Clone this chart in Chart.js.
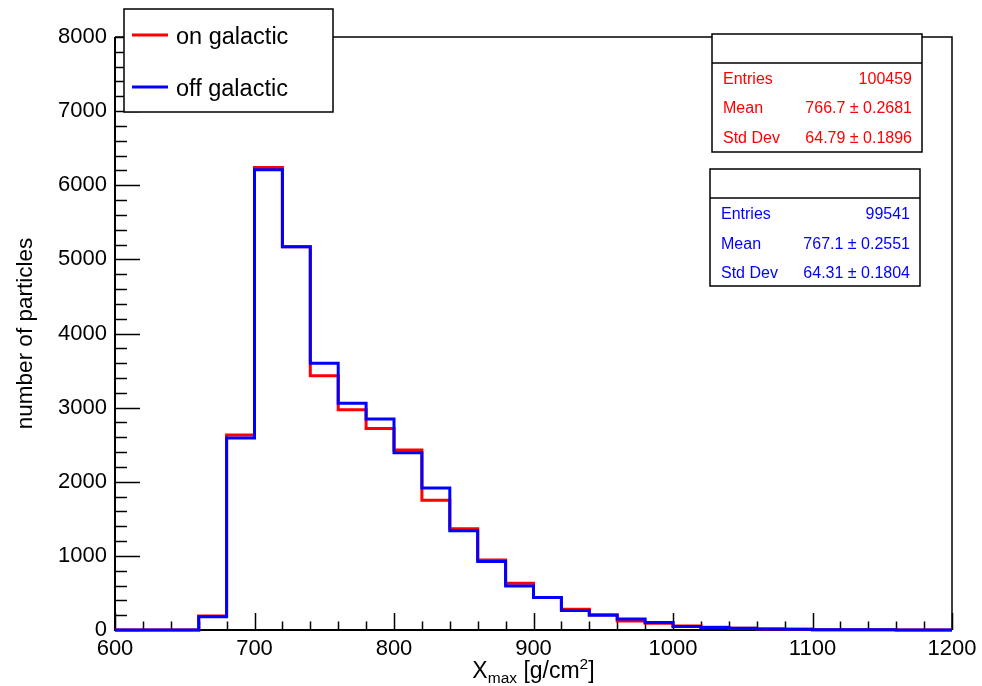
<!DOCTYPE html>
<html>
<head>
<meta charset="utf-8">
<script src="https://cdn.jsdelivr.net/npm/chart.js@4.4.1/dist/chart.umd.min.js"></script>
<style>
  html, body { margin: 0; padding: 0; background: #fff; }
  canvas { display: block; }
</style>
</head>
<body>
<canvas id="xmaxChart" width="982" height="686"></canvas>
<script>
// low edge of each 20 g/cm2 bin
const binLow = [600, 620, 640, 660, 680, 700, 720, 740, 760, 780,
                800, 820, 840, 860, 880, 900, 920, 940, 960, 980,
                1000, 1020, 1040, 1060, 1080, 1100, 1120, 1140, 1160, 1180];
const binHigh = 1200;

const onGalactic  = [0, 0, 0, 190, 2630, 6240, 5170, 3430, 2970, 2720,
                     2430, 1750, 1365, 945, 630, 440, 280, 205, 122, 92,
                     55, 36, 22, 14, 10, 5, 3, 2, 1, 1];
const offGalactic = [0, 0, 0, 180, 2590, 6210, 5170, 3600, 3060, 2845,
                     2390, 1915, 1340, 925, 595, 440, 262, 200, 148, 100,
                     48, 34, 22, 14, 10, 5, 3, 2, 1, 1];

const seriesNames  = ['on galactic', 'off galactic'];
const seriesColors = ['#ff0000', '#0000ff'];

const statEntries = ['100459', '99541'];
const statMean    = ['766.7 \u00b1 0.2681', '767.1 \u00b1 0.2551'];
const statStdDev  = ['64.79 \u00b1 0.1896', '64.31 \u00b1 0.1804'];

const xTicks = [600, 700, 800, 900, 1000, 1100, 1200];
const yTicks = [0, 1000, 2000, 3000, 4000, 5000, 6000, 7000, 8000];

const FONT = '"Liberation Sans", Arial, Helvetica, sans-serif';
Chart.defaults.font.family = FONT;
Chart.defaults.color = '#000';

// step outline: one point per low edge plus the closing edge
function histPoints(values) {
    const pts = binLow.map((e, i) => ({ x: e, y: values[i] }));
    pts.push({ x: binHigh, y: values[values.length - 1] });
    return pts;
}

// frame, inward ticks and axis lines (ROOT style)
const rootFrame = {
    id: 'rootFrame',
    beforeDatasetsDraw(chart) {
        const { ctx, chartArea: a, scales: { x, y } } = chart;
        ctx.save();
        ctx.strokeStyle = '#000';

        ctx.lineWidth = 1.5;
        ctx.beginPath();
        ctx.moveTo(a.left, a.top);
        ctx.lineTo(a.right, a.top);
        ctx.lineTo(a.right, a.bottom);
        ctx.stroke();

        ctx.lineWidth = 1.5;
        ctx.beginPath();
        for (let v = y.min; v <= y.max; v += 200) {
            const py = Math.round(y.getPixelForValue(v)) + 0.5;
            const len = v % 1000 === 0 ? 25 : 12;
            ctx.moveTo(a.left, py);
            ctx.lineTo(a.left + len, py);
        }
        for (let v = x.min; v <= x.max; v += 20) {
            const px = Math.round(x.getPixelForValue(v)) + 0.5;
            const len = v % 100 === 0 ? 17 : 8.5;
            ctx.moveTo(px, a.bottom);
            ctx.lineTo(px, a.bottom - len);
        }
        ctx.stroke();

        ctx.lineWidth = 2;
        ctx.beginPath();
        ctx.moveTo(a.left, a.top);
        ctx.lineTo(a.left, a.bottom);
        ctx.lineTo(a.right, a.bottom);
        ctx.stroke();
        ctx.restore();
    },
    afterDraw(chart) {
        const { ctx, chartArea: a } = chart;
        ctx.save();

        // x axis title with subscript / superscript
        const parts = [
            { t: 'X', s: 23, dy: 0 },
            { t: 'max', s: 15.5, dy: 5 },
            { t: ' [g/cm', s: 23, dy: 0 },
            { t: '2', s: 15.5, dy: -9 },
            { t: ']', s: 23, dy: 0 }
        ];
        let total = 0;
        parts.forEach(p => {
            ctx.font = p.s + 'px ' + FONT;
            p.w = ctx.measureText(p.t).width;
            total += p.w;
        });
        let tx = (a.left + a.right) / 2 - total / 2;
        ctx.fillStyle = '#000';
        ctx.textBaseline = 'alphabetic';
        ctx.textAlign = 'left';
        parts.forEach(p => {
            ctx.font = p.s + 'px ' + FONT;
            ctx.fillText(p.t, tx, 678 + p.dy);
            tx += p.w;
        });

        // legend box
        ctx.fillStyle = '#fff';
        ctx.fillRect(124, 9, 209, 103);
        ctx.strokeStyle = '#000';
        ctx.lineWidth = 1.5;
        ctx.strokeRect(124, 9, 209, 103);
        const legendY = [35, 87];
        chart.data.datasets.forEach((ds, i) => {
            ctx.strokeStyle = ds.borderColor;
            ctx.lineWidth = 3;
            ctx.beginPath();
            ctx.moveTo(132, legendY[i]);
            ctx.lineTo(168, legendY[i]);
            ctx.stroke();
            ctx.fillStyle = '#000';
            ctx.font = '23.5px ' + FONT;
            ctx.textBaseline = 'middle';
            ctx.fillText(ds.label, 176, legendY[i] + 3);
        });

        // statistics boxes
        const boxes = [
            { l: 712, t: 34, r: 922, b: 152, d: 63, rows: [79, 108, 138] },
            { l: 710, t: 169, r: 920, b: 286, d: 198, rows: [214, 244, 273] }
        ];
        boxes.forEach((bx, i) => {
            ctx.fillStyle = '#fff';
            ctx.fillRect(bx.l, bx.t, bx.r - bx.l, bx.b - bx.t);
            ctx.strokeStyle = '#000';
            ctx.lineWidth = 1.5;
            ctx.strokeRect(bx.l, bx.t, bx.r - bx.l, bx.b - bx.t);
            ctx.beginPath();
            ctx.moveTo(bx.l, bx.d);
            ctx.lineTo(bx.r, bx.d);
            ctx.stroke();

            ctx.fillStyle = seriesColors[i];
            ctx.font = '16px ' + FONT;
            ctx.textBaseline = 'middle';
            const names = ['Entries', 'Mean', 'Std Dev'];
            const vals = [statEntries[i], statMean[i], statStdDev[i]];
            names.forEach((n, k) => {
                ctx.textAlign = 'left';
                ctx.fillText(n, bx.l + 11, bx.rows[k] + 1);
                ctx.textAlign = 'right';
                ctx.fillText(vals[k], bx.r - 10, bx.rows[k] + 1);
            });
        });
        ctx.restore();
    }
};

const ctx = document.getElementById('xmaxChart').getContext('2d');

new Chart(ctx, {
    type: 'line',
    data: {
        datasets: [
            {
                label: seriesNames[0],
                data: histPoints(onGalactic),
                borderColor: seriesColors[0],
                borderWidth: 3,
                stepped: true,
                pointRadius: 0,
                fill: false,
                clip: 4,
                order: 2
            },
            {
                label: seriesNames[1],
                data: histPoints(offGalactic),
                borderColor: seriesColors[1],
                borderWidth: 3,
                stepped: true,
                pointRadius: 0,
                fill: false,
                clip: 4,
                order: 1
            }
        ]
    },
    options: {
        responsive: false,
        animation: false,
        layout: {
            padding: { left: 0, right: 30, top: 37, bottom: 0 }
        },
        plugins: {
            legend: { display: false },
            tooltip: { enabled: false }
        },
        scales: {
            x: {
                type: 'linear',
                min: 600,
                max: 1200,
                afterBuildTicks: (scale) => { scale.ticks = xTicks.map(v => ({ value: v })); },
                afterFit: (scale) => { scale.height = 56; scale.paddingRight = 0; scale.paddingLeft = 0; },
                grid: { display: false, drawTicks: false },
                border: { display: false },
                ticks: { font: { size: 22 }, padding: 6, maxRotation: 0, autoSkip: false,
                         callback: (v) => String(v) }
            },
            y: {
                min: 0,
                max: 8000,
                afterBuildTicks: (scale) => { scale.ticks = yTicks.map(v => ({ value: v })); },
                afterFit: (scale) => { scale.width = 115; },
                grid: { display: false, drawTicks: false },
                border: { display: false },
                ticks: { font: { size: 22 }, padding: 8, callback: (v) => String(v) },
                title: {
                    display: true,
                    text: 'number of particles',
                    font: { size: 22.5 },
                    padding: { top: 12, bottom: 0 }
                }
            }
        }
    },
    plugins: [rootFrame]
});
</script>
</body>
</html>
